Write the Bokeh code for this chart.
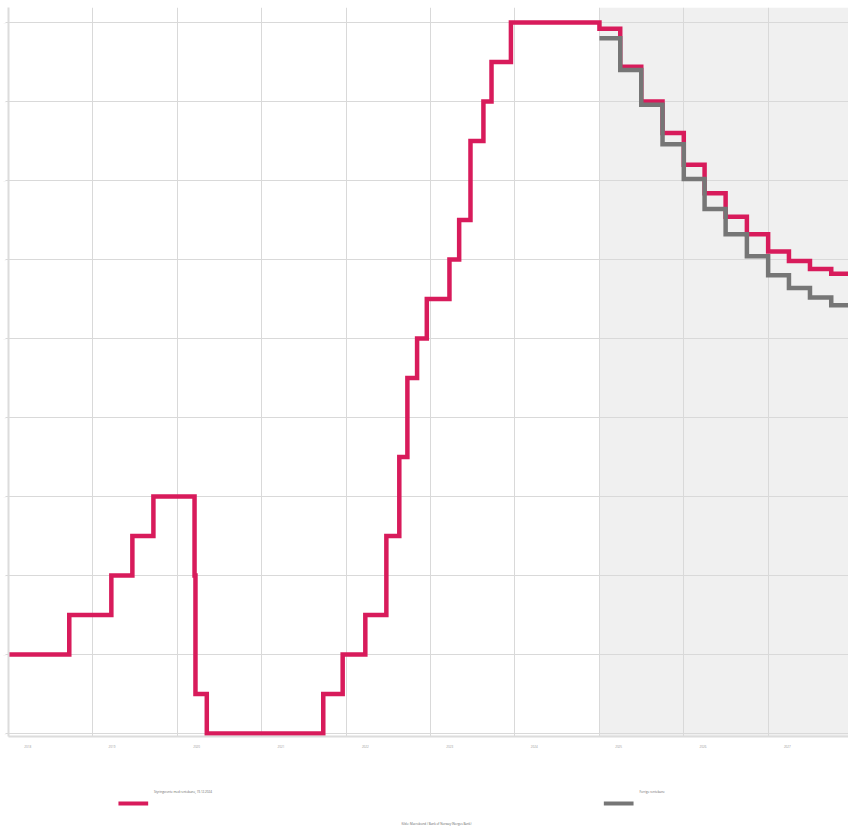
import pandas as pd
from bokeh.plotting import figure
from bokeh.models import FixedTicker, BoxAnnotation, Range1d, DatetimeTickFormatter
from bokeh.layouts import column
from bokeh.embed import file_html
from bokeh.resources import INLINE
from bokeh.core.properties import value

# ---------------- data ----------------
hist_dates = ["2018-01-01", "2018-09-21", "2019-03-22", "2019-06-21", "2019-09-20",
              "2020-03-16", "2020-03-20", "2020-05-08", "2021-09-24", "2021-12-17",
              "2022-03-25", "2022-06-24", "2022-08-19", "2022-09-23", "2022-11-04",
              "2022-12-16", "2023-03-24", "2023-05-05", "2023-06-23", "2023-08-18",
              "2023-09-22", "2023-12-15"]
hist_rate = [0.5, 0.75, 1.0, 1.25, 1.5,
             1.0, 0.25, 0.0, 0.25, 0.5,
             0.75, 1.25, 1.75, 2.25, 2.5,
             2.75, 3.0, 3.25, 3.75, 4.0,
             4.25, 4.5]

quarter_dates = ["2025-01-01", "2025-04-01", "2025-07-01", "2025-10-01",
                 "2026-01-01", "2026-04-01", "2026-07-01", "2026-10-01",
                 "2027-01-01", "2027-04-01", "2027-07-01", "2027-10-01"]
path_end = "2028-01-01"
new_path = [4.46, 4.22, 4.00, 3.80, 3.60, 3.42, 3.27, 3.16, 3.05, 2.99, 2.94, 2.91]
prev_path = [4.40, 4.20, 3.98, 3.73, 3.51, 3.32, 3.16, 3.02, 2.90, 2.82, 2.76, 2.71]

forecast_start = "2025-01-01"
grid_years = list(range(2018, 2029))
label_years = list(range(2018, 2028))
y_grid = [0, 0.5, 1.0, 1.5, 2.0, 2.5, 3.0, 3.5, 4.0, 4.5]

legend_labels = ["Styringsrente med rentebane, 19.12.2024", "Forrige rentebane"]
source_text = "Kilde: Macrobond / Bank of Norway (Norges Bank)"

RED = "#d81b5b"
GRAY = "#767676"
FONT = value("Open Sans")


def ms(d):
    return int(pd.Timestamp(d).value // 10**6)


x0 = pd.Timestamp("2018-01-01")
x1 = x0 + pd.Timedelta(days=840 * 3652 / 844)

# ---------------- main plot ----------------
p = figure(width=848, height=758, x_axis_type="datetime",
           x_range=Range1d(ms(x0), ms(x1)),
           y_range=Range1d(-0.019, 4.595),
           output_backend="svg", toolbar_location=None,
           min_border_left=8, min_border_right=0, min_border_top=7, min_border_bottom=22)
p.outline_line_color = None
p.background_fill_color = "white"
p.border_fill_color = "white"

p.yaxis.ticker = FixedTicker(ticks=y_grid)
p.yaxis.axis_line_color = "#dcdcdc"
p.yaxis.axis_line_width = 2
p.yaxis.major_tick_line_color = "#d9d9d9"
p.yaxis.major_tick_out = 3
p.yaxis.major_tick_in = 0
p.yaxis.minor_tick_line_color = None
p.yaxis.major_label_text_font_size = "1.5px"
p.yaxis.major_label_text_color = "#e6e6e6"
p.yaxis.major_label_text_font = "Open Sans"
p.yaxis.major_label_standoff = 0

p.xgrid.ticker = FixedTicker(ticks=[ms(f"{y}-01-01") for y in grid_years])
p.ygrid.ticker = FixedTicker(ticks=y_grid)
p.xgrid.grid_line_color = "#d9d9d9"
p.ygrid.grid_line_color = "#d9d9d9"

p.xaxis.ticker = FixedTicker(ticks=[ms(f"{y}-03-25") for y in label_years])
p.xaxis.formatter = DatetimeTickFormatter(years="%Y", months="%Y", days="%Y")
p.xaxis.axis_line_color = "#dcdcdc"
p.xaxis.axis_line_width = 2
p.xaxis.major_tick_line_color = None
p.xaxis.minor_tick_line_color = None
p.xaxis.major_label_text_font_size = "3px"
p.xaxis.major_label_text_color = "#999999"
p.xaxis.major_label_text_font = "Open Sans"
p.xaxis.major_label_standoff = 2

shade = BoxAnnotation(left=ms(forecast_start), fill_color="#f0f0f0", fill_alpha=1.0,
                      line_color=None, level="image")
p.add_layout(shade)

red_x = [ms(d) for d in hist_dates + quarter_dates + [path_end]]
red_y = hist_rate + new_path + [new_path[-1]]
gray_x = [ms(d) for d in quarter_dates + [path_end]]
gray_y = prev_path + [prev_path[-1]]

p.step(red_x, red_y, mode="after", line_color=RED, line_width=4.5, line_join="miter")
p.step(gray_x, gray_y, mode="after", line_color=GRAY, line_width=4.5, line_join="miter")

# ---------------- footer (legend + source) ----------------
f = figure(width=848, height=69, x_range=Range1d(0, 848), y_range=Range1d(0, 69),
           output_backend="svg", toolbar_location=None, min_border=0)
f.axis.visible = False
f.grid.visible = False
f.outline_line_color = None

f.segment(x0=[111, 601], y0=[24, 24], x1=[141, 631], y1=[24, 24],
          line_color=[RED, GRAY], line_width=4)
f.text(x=[147, 637], y=[36, 36], text=legend_labels, text_font=FONT,
       text_font_size="3px", text_color="#666666",
       text_align="left", text_baseline="middle")
f.text(x=[432], y=[4], text=[source_text], text_font=FONT,
       text_font_size="3px", text_color="#666666",
       text_align="center", text_baseline="middle")

layout = column(p, f, spacing=0)

open("out.html", "w").write(file_html(layout, INLINE))
